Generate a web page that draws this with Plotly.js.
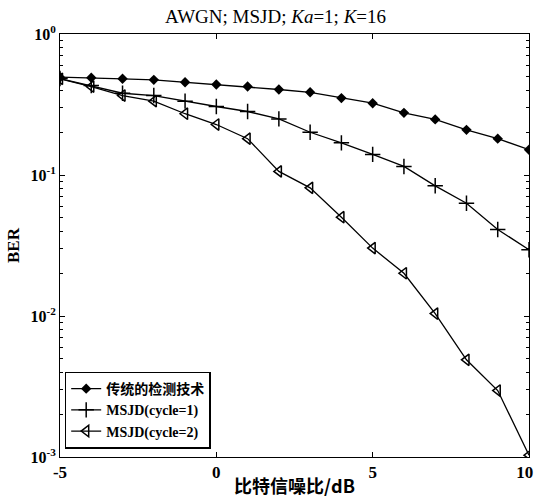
<!DOCTYPE html>
<html>
<head>
<meta charset="utf-8">
<script src="https://cdn.plot.ly/plotly-3.0.1.min.js"></script>
<style>html,body{margin:0;padding:0;background:#fff;}#chart{width:535px;height:498px;}</style>
</head>
<body>
<div id="chart"></div>
<script>
const snr = [-5,-4,-3,-2,-1,0,1,2,3,4,5,6,7,8,9,10];
const berConventional = [0.494,0.49,0.481,0.473,0.455,0.438,0.424,0.404,0.386,0.351,0.323,0.276,0.248,0.209,0.181,0.151];
const berCycle1 = [0.483,0.431,0.380,0.366,0.334,0.306,0.282,0.250,0.201,0.169,0.140,0.115,0.0838,0.0631,0.0411,0.0295];
const berCycle2 = [0.481,0.424,0.366,0.334,0.272,0.228,0.181,0.106,0.0811,0.0502,0.0303,0.0201,0.0104,0.00489,0.00296,0.00103];
const seriesNames = ['<span style="font-family:\'Noto Sans CJK SC\';font-weight:bold;font-size:14px">传统的检测技术</span>','MSJD(cycle=1)','MSJD(cycle=2)'];
const xTicks = [-5,0,5,10];
const xTickText = ['-5','0','5','10\u00a0\u00a0'];
const yTicks = [1,0.1,0.01,0.001];
const yTickText = ['10<sup>0</sup>','10<sup>-1</sup>','10<sup>-2</sup>','10<sup>-3</sup>'];
const yMinor = [];
[0.001,0.01,0.1].forEach(d=>{for(let k=2;k<=9;k++) yMinor.push(d*k);});

const lineStyle = {color:'#000', width:1.3};
const traces = [
  {x:snr, y:berConventional, name:seriesNames[0], mode:'lines+markers', line:lineStyle,
   marker:{symbol:'diamond', size:8, color:'#000'}},
  {x:snr, y:berCycle1, name:seriesNames[1], mode:'lines+markers', line:lineStyle,
   marker:{symbol:'cross-thin-open', size:11, color:'#000', line:{color:'#000', width:1.5}}},
  {x:snr, y:berCycle2, name:seriesNames[2], mode:'lines+markers', line:lineStyle,
   marker:{symbol:'triangle-left-open', size:10, color:'#000', line:{color:'#000', width:1.5}}}
];
const serif = 'Liberation Serif, Times New Roman, serif';
const layout = {
  width:535, height:498,
  margin:{l:60, r:6, t:34, b:41},
  paper_bgcolor:'#fff', plot_bgcolor:'#fff',
  showlegend:true,
  title:{text:'AWGN; MSJD; <i>Ka</i>=1; <i>K</i>=16', font:{family:serif, size:19, color:'#000'}, x:0.515, xanchor:'center', y:0.968, yanchor:'middle'},
  xaxis:{range:[-5,10], tickvals:xTicks, ticktext:xTickText, ticks:'inside', ticklen:5, tickcolor:'#000', ticklabeloverflow:'allow',
    showline:true, linecolor:'#000', linewidth:1, mirror:'ticks', showgrid:false, zeroline:false,
    tickfont:{family:serif, size:17, color:'#000', weight:'bold'},
    title:{text:'比特信噪比/dB', font:{family:'Noto Sans CJK SC', size:18, color:'#000', weight:'bold'}, standoff:0}},
  yaxis:{type:'log', range:[-3,0], tickvals:yTicks, ticktext:yTickText, ticks:'inside', ticklen:5, tickcolor:'#000',
    minor:{tickvals:yMinor, ticks:'inside', ticklen:3, tickcolor:'#000'},
    showline:true, linecolor:'#000', linewidth:1, mirror:'ticks', showgrid:false, zeroline:false,
    tickfont:{family:serif, size:16, color:'#000', weight:'bold'},
    title:{text:'BER', font:{family:serif, size:17, color:'#000', weight:'bold'}, standoff:6}},
  legend:{x:0.01, y:0.02, xanchor:'left', yanchor:'bottom', bgcolor:'#fff', bordercolor:'#000', borderwidth:1.5,
    font:{family:serif, size:14, color:'#000', weight:'bold'}, itemwidth:30, tracegroupgap:0}
};
Plotly.newPlot('chart', traces, layout, {staticPlot:true, displayModeBar:false});
</script>
</body>
</html>
